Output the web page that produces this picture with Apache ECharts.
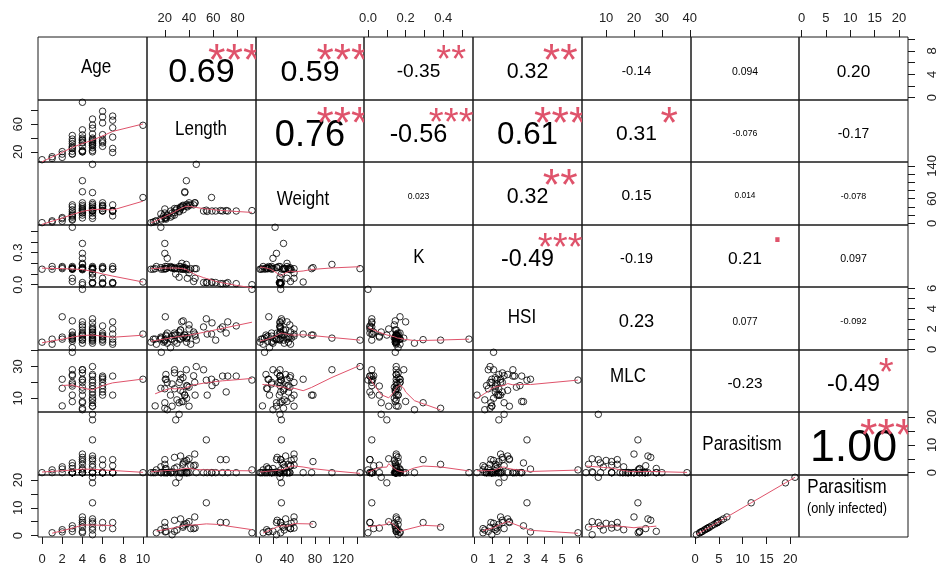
<!DOCTYPE html>
<html>
<head>
<meta charset="utf-8">
<script src="https://cdn.jsdelivr.net/npm/echarts@6/dist/echarts.min.js"></script>
<style>
  html, body { margin: 0; padding: 0; background: #ffffff; }
  #chart { width: 936px; height: 569px; }
</style>
</head>
<body>
<div id="chart"></div>
<script>
// ---- measurements, one entry per fish ----
const age = [0, 1, 1, 2, 2, 2, 3, 3, 3, 3, 3, 3, 3, 3, 3,
  4, 4, 4, 4, 4, 4, 4, 4, 4, 4, 4,
  5, 5, 5, 5, 5, 5, 5, 5, 5, 5, 5, 5, 5,
  6, 6, 6, 6, 6, 6, 6,
  7, 7, 7, 7, 7, 7,
  10,
  3, 4, 4, 5, 6, 5];
const length = [8.6, 10.5, 13, 16.7, 20.4, 12, 43.8, 38.6, 35.2, 31.9, 28, 24.7, 20.9, 17.1, 16.7,
  92, 52, 44.7, 37.8, 36.5, 34, 20, 20, 22, 21, 33,
  46, 67.7, 54.3, 59, 36.5, 31.8, 29, 40, 35, 30, 26, 22, 20,
  79, 70.7, 62, 45, 38, 33, 28,
  72, 66, 55, 41.4, 25, 19,
  58.6,
  26, 28, 40, 33, 35, 38];
const weight = [1.5, 3, 6, 11, 14, 5, 45, 40, 33, 28, 20, 15, 10, 8, 23,
  31, 30, 50, 104, 77, 40, 35, 25, 20, 13, 35,
  144, 30, 32, 30, 75, 30, 32, 50, 42, 36, 25, 18, 12,
  30, 31, 30, 50, 42, 40, 36,
  30, 31, 29, 45, 30, 18,
  63,
  18, 26, 44, 38, 44, 46];
const condK = [0.145, 0.145, 0.17, 0.16, 0.17, 0.15, 0.03, 0.06, 0.145, 0.17, 0.15, 0.16, 0.15, 0.145, 0.537,
  0.0, 0.02, 0.15, 0.19, 0.16, 0.2, 0.386, 0.293, 0.247, 0.15, 0.145,
  0.15, 0.01, 0.02, 0.02, 0.15, 0.07, 0.1, 0.11, 0.145, 0.15, 0.16, 0.17, 0.15,
  0.01, 0.01, 0.02, 0.06, 0.15, 0.17, 0.15,
  0.02, 0.01, 0.02, 0.15, 0.17, 0.145,
  0.025,
  0.155, 0.16, 0.14, 0.15, 0.16, 0.14];
const hsi = [0.7, 1.0, 0.5, 1.2, 3.2, 1.0, 1.7, 1.2, 2.8, 1.0, 0.8, 0.16, 1.4, 1.1, 1.0,
  5.9, 2.2, 1.5, 1.1, 1.4, 2.7, 0.9, 0.95, 0.6, 1.3, 1.9,
  0.9, 2.2, 3.0, 2.6, 1.4, 1.7, 1.4, 2.0, 1.2, 0.6, 1.0, 1.6, 0.8,
  2.3, 1.6, 0.9, 1.3, 0.7, 1.0, 1.4,
  2.7, 2.0, 1.5, 0.5, 1.0, 0.7,
  1.5,
  1.3, 1.6, 2.4, 1.9, 1.2, 1.1];
// null: not measured
const mlc = [null, null, null, 16.3, 22, 5.2, 24.2, 17.7, 7.9, 20, 28, 12, 25, 39, null,
  21.5, 28, 20, 28, 12, 8, 3.7, 7.2, 2.8, 22, 15,
  30, 24, 21.4, 18, 12, 7.2, null, 5, 14, 9, 5, 20, 16,
  24, 14, 20, 12, 18, 22, 16,
  24, null, 12, null, null, null,
  22,
  19, 26, 17, 25, 23, 10];
const parasitism = [0, 0, 1.0, 2.1, 1.3, 0, 2.5, 0, 3.5, 0, 1.5, 0, 0, 0, 0,
  1.0, 0, 6.7, 0, 4, 0, 3, 4.7, 0, 1.5, 0,
  0, 0, 11.8, 0, 0, 21, 19, 5, 3, 2, 0.3, 0, 0,
  0, 4.7, 0, 2.7, 0, 0, 0,
  0, 4.7, 0, 2.5, 0, 0,
  0,
  0, 5.5, 0, 6, 0, 4.4];
// same count restricted to infected fish
const parasitismInfected = parasitism.map(v => (v > 0 ? v : null));

const varNames = ['Age', 'Length', 'Weight', 'K', 'HSI', 'MLC', 'Parasitism', 'Parasitism'];
const varNote = ['', '', '', '', '', '', '', '(only infected)'];

// ---- correlations (upper panels), row by row ----
const corrR = [
  [0.69, 0.59, -0.35, 0.32, -0.14, 0.094, 0.20],
  [0.76, -0.56, 0.61, 0.31, -0.076, -0.17],
  [0.023, 0.32, 0.15, 0.014, -0.078],
  [-0.49, -0.19, 0.21, 0.097],
  [0.23, 0.077, -0.092],
  [-0.23, -0.49],
  [1.00]
];
const corrSig = [
  ['***', '***', '**', '**', '', '', ''],
  ['***', '***', '***', '*', '', ''],
  ['', '**', '', '', ''],
  ['***', '', '.', ''],
  ['', '', ''],
  ['', '*'],
  ['***']
];

// ---- axis ticks and labels per variable ----
const tickValues = [
  [0, 2, 4, 6, 8, 10],
  [20, 40, 60, 80],
  [0, 20, 40, 60, 80, 100, 120, 140],
  [0, 0.1, 0.2, 0.3, 0.4, 0.5],
  [0, 1, 2, 3, 4, 5, 6],
  [10, 20, 30, 40],
  [0, 5, 10, 15, 20],
  [0, 5, 10, 15, 20]
];
const outerLabels = [   // top / bottom
  [0, 2, 4, 6, 8, 10],
  [20, 40, 60, 80],
  [0, 40, 80, 120],
  [0, 0.2, 0.4],
  [0, 1, 2, 3, 4, 5, 6],
  [10, 20, 30, 40],
  [0, 5, 10, 15, 20],
  [0, 5, 10, 15, 20]
];
const sideLabels = [    // left / right
  [0, 4, 8],
  [20, 60],
  [0, 60, 140],
  [0, 0.3],
  [0, 2, 4, 6],
  [10, 30],
  [0, 10, 20],
  [0, 10, 20]
];

// ---- styling / layout ----
const INK = '#1a1a1a';
const SMOOTH = '#DF536B';
const SANS = '"Liberation Sans", Arial, sans-serif';
const NV = 8;
const colEdge = Array.from({ length: NV + 1 }, (_, k) => Math.round(38 + k * 108.75));
const rowEdge = Array.from({ length: NV + 1 }, (_, k) => Math.round(37 + k * 62.5));
const diagLabelAt = [[96, 67], [201, 129], [303, 199], [419, 257], [522, 317], [628, 376], [742, 444], [847, 487]];
const diagNoteAt = [847, 509];
const NAME_SQUEEZE = 0.85;

const vars = [age, length, weight, condK, hsi, mlc, parasitism, parasitismInfected];

function paddedRange(v) {
  const f = v.filter(x => x !== null && x !== undefined);
  const lo = Math.min(...f), hi = Math.max(...f);
  const d = (hi - lo) * 0.04;
  return [lo - d, hi + d];
}
const ranges = vars.map(paddedRange);

// R-style lowess smoother (port of clowess)
function lowess(xIn, yIn, f, nsteps) {
  const order = xIn.map((_, i) => i).sort((a, b) => xIn[a] - xIn[b]);
  const n = order.length;
  const x = [0], y = [0];
  order.forEach(i => { x.push(xIn[i]); y.push(yIn[i]); });
  if (n < 2) return [[x[1], y[1]]];
  const ys = new Array(n + 1).fill(0), rw = new Array(n + 1).fill(0);
  const res = new Array(n + 1).fill(0), w = new Array(n + 1).fill(0);
  const delta = 0.01 * (x[n] - x[1]);
  const ns = Math.max(2, Math.min(n, Math.floor(f * n + 1e-7)));
  const range = x[n] - x[1];

  function lowest(xs, nleft, nright, userw) {
    const h = Math.max(xs - x[nleft], x[nright] - xs);
    const h9 = 0.999 * h, h1 = 0.001 * h;
    let a = 0, j = nleft;
    while (j <= n) {
      w[j] = 0;
      const r = Math.abs(x[j] - xs);
      if (r <= h9) {
        if (r <= h1) w[j] = 1;
        else { const q = r / h; const t = 1 - q * q * q; w[j] = t * t * t; }
        if (userw) w[j] *= rw[j];
        a += w[j];
      } else if (x[j] > xs) break;
      j++;
    }
    const nrt = j - 1;
    if (a <= 0) return null;
    for (j = nleft; j <= nrt; j++) w[j] /= a;
    if (h > 0) {
      a = 0;
      for (j = nleft; j <= nrt; j++) a += w[j] * x[j];
      let b = xs - a, c = 0;
      for (j = nleft; j <= nrt; j++) c += w[j] * (x[j] - a) * (x[j] - a);
      if (Math.sqrt(c) > 0.001 * range) {
        b /= c;
        for (j = nleft; j <= nrt; j++) w[j] *= (b * (x[j] - a) + 1);
      }
    }
    let s = 0;
    for (j = nleft; j <= nrt; j++) s += w[j] * y[j];
    return s;
  }

  let iter = 1;
  while (iter <= nsteps + 1) {
    let nleft = 1, nright = ns, last = 0, i = 1;
    for (;;) {
      if (nright < n) {
        const d1 = x[i] - x[nleft], d2 = x[nright + 1] - x[i];
        if (d1 > d2) { nleft++; nright++; continue; }
      }
      const v = lowest(x[i], nleft, nright, iter > 1);
      ys[i] = v === null ? y[i] : v;
      if (last < i - 1) {
        const denom = x[i] - x[last];
        for (let j = last + 1; j < i; j++) {
          const alpha = (x[j] - x[last]) / denom;
          ys[j] = alpha * ys[i] + (1 - alpha) * ys[last];
        }
      }
      last = i;
      const cut = x[last] + delta;
      for (i = last + 1; i <= n; i++) {
        if (x[i] > cut) break;
        if (x[i] === x[last]) { ys[i] = ys[last]; last = i; }
      }
      i = Math.max(last + 1, i - 1);
      if (last >= n) break;
    }
    let sc = 0;
    for (let k = 1; k <= n; k++) { res[k] = y[k] - ys[k]; sc += Math.abs(res[k]); }
    sc /= n;
    if (iter > nsteps) break;
    const sorted = res.slice(1).map(Math.abs).sort((a, b) => a - b);
    const m1 = Math.floor(n / 2);
    let cmad;
    if (n % 2 === 0) cmad = 3 * (sorted[m1] + sorted[n - m1 - 1]);
    else cmad = 6 * sorted[m1];
    if (cmad < 1e-7 * sc) break;
    const c9 = 0.999 * cmad, c1 = 0.001 * cmad;
    for (let k = 1; k <= n; k++) {
      const r = Math.abs(res[k]);
      if (r <= c1) rw[k] = 1;
      else if (r <= c9) { const q = 1 - (r / cmad) * (r / cmad); rw[k] = q * q; }
      else rw[k] = 0;
    }
    iter++;
  }
  const out = [];
  for (let k = 1; k <= n; k++) out.push([x[k], ys[k]]);
  return out;
}

// text measurement for sizing and ink-centering
const mctx = document.createElement('canvas').getContext('2d');
function inkBox(text, size, family) {
  mctx.font = size + 'px ' + family;
  mctx.textBaseline = 'middle';
  const m = mctx.measureText(text);
  return { w: m.width, dy: (m.actualBoundingBoxDescent - m.actualBoundingBoxAscent) / 2 };
}
function formatR(r) {
  const a = Math.abs(r);
  const dec = a > 0 ? Math.max(2, 1 - Math.floor(Math.log10(a))) : 2;
  return r.toFixed(dec);
}
function labelFmt(j) {
  return j === 3 ? (v => Number(v).toFixed(1)) : (v => String(Number(v)));
}

const grid = [], xAxis = [], yAxis = [], series = [];
for (let i = 0; i < NV; i++) {
  for (let j = 0; j < NV; j++) {
    const c = i * NV + j;
    grid.push({
      left: colEdge[j], top: rowEdge[i],
      width: colEdge[j + 1] - colEdge[j], height: rowEdge[i + 1] - rowEdge[i],
      show: true, borderColor: INK, borderWidth: 1, backgroundColor: 'transparent',
      outerBoundsMode: 'none', containLabel: false
    });
    const showTop = i === 0 && j % 2 === 1;
    const showBottom = i === NV - 1 && j % 2 === 0;
    const showLeft = j === 0 && i % 2 === 1;
    const showRight = j === NV - 1 && i % 2 === 0;
    const showX = showTop || showBottom, showY = showLeft || showRight;
    xAxis.push({
      type: 'value', gridIndex: c, min: ranges[j][0], max: ranges[j][1],
      position: showTop ? 'top' : 'bottom',
      axisLine: { show: false, onZero: false }, splitLine: { show: false },
      axisTick: { show: showX, inside: false, length: 7, customValues: tickValues[j], lineStyle: { color: INK, width: 1 } },
      axisLabel: { show: showX, customValues: outerLabels[j], margin: showTop ? 12 : 16,
        fontFamily: SANS, fontSize: 13, color: '#222', formatter: labelFmt(j) }
    });
    yAxis.push({
      type: 'value', gridIndex: c, min: ranges[i][0], max: ranges[i][1],
      position: showRight ? 'right' : 'left',
      axisLine: { show: false, onZero: false }, splitLine: { show: false },
      axisTick: { show: showY, inside: false, length: 7, customValues: tickValues[i], lineStyle: { color: INK, width: 1 } },
      axisLabel: { show: showY, customValues: sideLabels[i], rotate: 90, margin: showRight ? 18 : 13,
        fontFamily: SANS, fontSize: 13, color: '#222', formatter: labelFmt(i) }
    });

    if (i > j) {
      // lower panel: scatter + lowess
      const xs = vars[j], yv = vars[i];
      const px = [], py = [];
      for (let k = 0; k < xs.length; k++) {
        if (xs[k] !== null && yv[k] !== null) { px.push(xs[k]); py.push(yv[k]); }
      }
      series.push({
        type: 'scatter', xAxisIndex: c, yAxisIndex: c, symbol: 'circle', symbolSize: 6.5,
        itemStyle: { color: 'rgba(0,0,0,0)', borderColor: '#000', borderWidth: 1 },
        data: px.map((v, k) => [v, py[k]]), silent: true, clip: false, z: 2
      });
      series.push({
        type: 'line', xAxisIndex: c, yAxisIndex: c, showSymbol: false, symbol: 'none',
        lineStyle: { color: SMOOTH, width: 1 }, data: lowess(px, py, 2 / 3, 3),
        silent: true, z: 3, clip: false
      });
    } else if (i < j) {
      // upper panel: correlation and significance
      const r = corrR[i][j - i - 1];
      const sig = corrSig[i][j - i - 1];
      const txt = formatR(r);
      const W = colEdge[j + 1] - colEdge[j];
      const wEm = inkBox(txt, 100, SANS).w / 100;
      const starSize = 0.8 * W / wEm;
      const numSize = starSize * (Math.abs(r) + 0.3) / 1.3;
      series.push({
        type: 'custom', xAxisIndex: c, yAxisIndex: c, clip: true, silent: true,
        data: [[ranges[j][0], ranges[i][0]]],
        renderItem: function (params) {
          const cs = params.coordSys;
          const children = [];
          const nb = inkBox(txt, numSize, SANS);
          children.push({
            type: 'text', x: cs.x + cs.width / 2, y: cs.y + cs.height / 2 + 2 - nb.dy,
            style: { text: txt, font: numSize.toFixed(2) + 'px ' + SANS, fill: '#000',
              align: 'center', verticalAlign: 'middle', textAlign: 'center', textVerticalAlign: 'middle' }
          });
          if (sig) {
            const sb = inkBox(sig, starSize, SANS);
            children.push({
              type: 'text', x: cs.x + cs.width * 0.8, y: cs.y + cs.height * 0.2 + 2.5 - sb.dy,
              style: { text: sig, font: starSize.toFixed(2) + 'px ' + SANS, fill: SMOOTH,
                align: 'center', verticalAlign: 'middle', textAlign: 'center', textVerticalAlign: 'middle' }
            });
          }
          return {
            type: 'group', children: children,
            clipPath: { type: 'rect', shape: { x: cs.x, y: cs.y, width: cs.width, height: cs.height } }
          };
        }
      });
    }
  }
}

// diagonal variable names (slightly condensed)
const graphic = [];
varNames.forEach((name, k) => {
  graphic.push({
    type: 'text', x: diagLabelAt[k][0], y: diagLabelAt[k][1], scaleX: NAME_SQUEEZE, silent: true,
    style: { text: name, font: '20px ' + SANS, fill: '#000',
      align: 'center', verticalAlign: 'middle', textAlign: 'center', textVerticalAlign: 'middle' }
  });
  if (varNote[k]) {
    graphic.push({
      type: 'text', x: diagNoteAt[0], y: diagNoteAt[1], scaleX: NAME_SQUEEZE, silent: true,
      style: { text: varNote[k], font: '15px ' + SANS, fill: '#000',
        align: 'center', verticalAlign: 'middle', textAlign: 'center', textVerticalAlign: 'middle' }
    });
  }
});

const chart = echarts.init(document.getElementById('chart'), null, { renderer: 'canvas' });
chart.setOption({
  backgroundColor: '#ffffff',
  animation: false,
  grid: grid, xAxis: xAxis, yAxis: yAxis, series: series, graphic: graphic
});
</script>
</body>
</html>
